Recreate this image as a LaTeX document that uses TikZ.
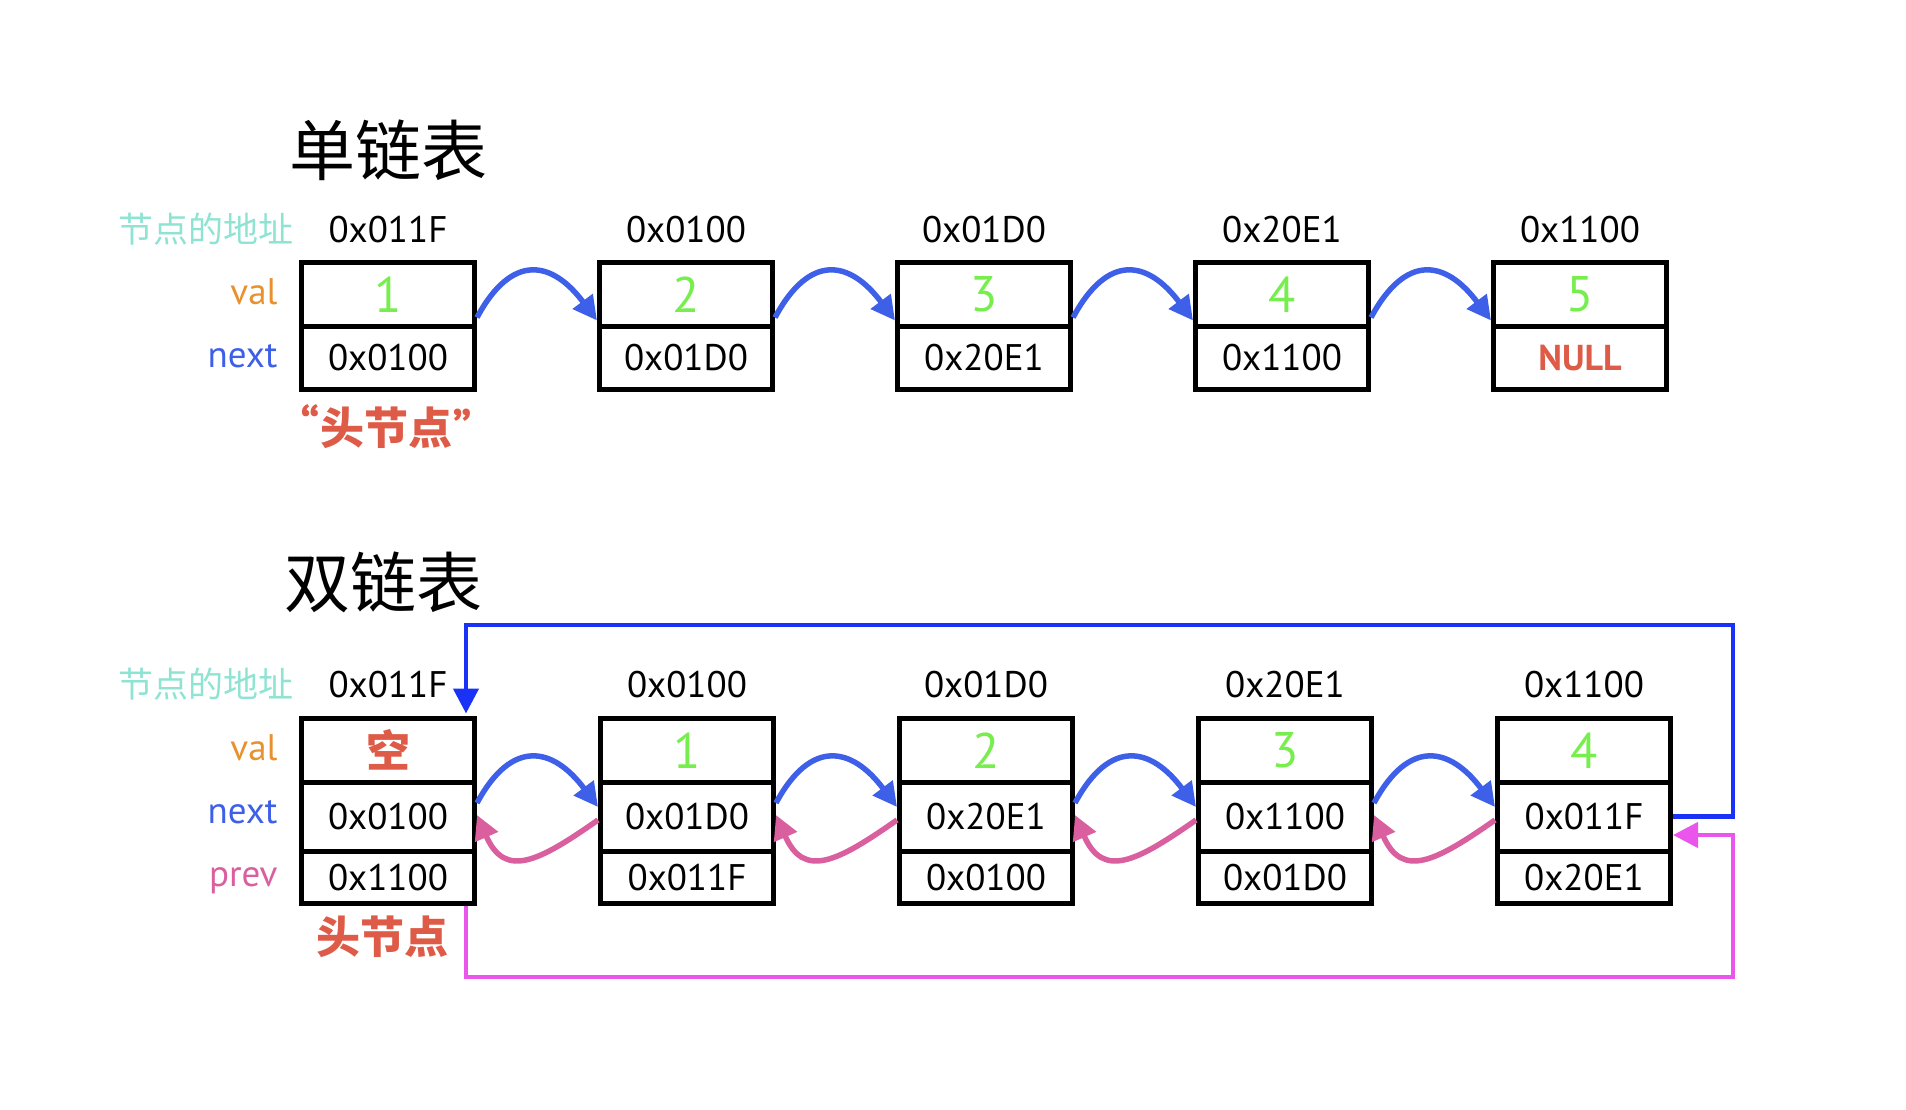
\documentclass[tikz,border=0pt]{standalone}
\usepackage{fontspec}
\setmainfont{PT Sans}
\newfontfamily\ptsans{PT Sans}
\newfontfamily\cjk{Noto Sans CJK SC}
\usetikzlibrary{arrows.meta}

\definecolor{addrteal}{HTML}{8FE3D3}
\definecolor{valorange}{HTML}{E8912F}
\definecolor{nextblue}{HTML}{3E5FE8}
\definecolor{prevpink}{HTML}{D95F9F}
\definecolor{valgreen}{HTML}{76EE4E}
\definecolor{headred}{HTML}{DD5B47}
\definecolor{loopblue}{HTML}{1A32F6}
\definecolor{looppink}{HTML}{EA55EC}

\tikzset{
  cell/.style={draw, line width=5pt, inner sep=0pt, minimum width=173pt, font=\fontsize{37}{40}\selectfont},
  valcell/.style={cell, minimum height=63.5pt, text=valgreen, font=\fontsize{50}{52}\selectfont},
  nextcell/.style={cell, minimum height=63.5pt},
  dvalcell/.style={valcell},
  dnextcell/.style={cell, minimum height=69pt},
  dprevcell/.style={cell, minimum height=52.5pt},
  addr/.style={anchor=base, font=\fontsize{37}{40}\selectfont},
  addrlabel/.style={anchor=base east, text=addrteal, font=\cjk\fontsize{35}{38}\selectfont},
  rowlabel/.style={anchor=mid east, font=\fontsize{37}{40}\selectfont},
  title/.style={font=\cjk\fontsize{66}{70}\selectfont},
  headlabel/.style={text=headred, font=\cjk\bfseries\fontsize{44}{46}\selectfont},
  nextlink/.style={draw=nextblue, line width=5.5pt, -{Triangle[length=24pt,width=24pt]}},
  prevlink/.style={draw=prevpink, line width=5.5pt, -{Triangle[length=24pt,width=24pt]}},
  loopnext/.style={draw=loopblue, line width=4.5pt, -{Triangle[length=25pt,width=25pt]}},
  loopprev/.style={draw=looppink, line width=4.5pt, -{Triangle[length=25pt,width=25pt]}}
}

\begin{document}
\begin{tikzpicture}[x=1pt,y=-1pt]
        \useasboundingbox (0,0) rectangle (1906,1110);

        % single linked list
        \node[title] (stitle) at (388,150) {单链表};
        \node[addrlabel] (saddr) at (297,242) {节点的地址};
        \node[rowlabel, text=valorange] (sval) at (281,302) {val};
        \node[rowlabel, text=nextblue] (snext) at (281,365) {next};

        \node[addr] (sa1) at (388,242) {0x011F};
        \node[addr] (sa2) at (686,242) {0x0100};
        \node[addr] (sa3) at (984,242) {0x01D0};
        \node[addr] (sa4) at (1282,242) {0x20E1};
        \node[addr] (sa5) at (1580,242) {0x1100};

        \node[valcell] (s1v) at (388,294.25) {1};
        \node[valcell] (s2v) at (686,294.25) {2};
        \node[valcell] (s3v) at (984,294.25) {3};
        \node[valcell] (s4v) at (1282,294.25) {4};
        \node[valcell] (s5v) at (1580,294.25) {5};

        \node[nextcell] (s1n) at (388,357.75) {0x0100};
        \node[nextcell] (s2n) at (686,357.75) {0x01D0};
        \node[nextcell] (s3n) at (984,357.75) {0x20E1};
        \node[nextcell] (s4n) at (1282,357.75) {0x1100};
        \node[nextcell, text=headred, font=\bfseries\fontsize{36}{38}\selectfont] (s5n) at (1580,357.75) {NULL};

        \node[headlabel] (shead) at (386,427) {{\ptsans\fontsize{50}{50}\selectfont “}头节点{\ptsans\fontsize{50}{50}\selectfont ”}};

        \draw[nextlink] ([yshift=6pt]s1n.north east) .. controls +(35,-65) and +(-45,-60) .. ([yshift=3pt]s2n.north west);
        \draw[nextlink] ([yshift=6pt]s2n.north east) .. controls +(35,-65) and +(-45,-60) .. ([yshift=3pt]s3n.north west);
        \draw[nextlink] ([yshift=6pt]s3n.north east) .. controls +(35,-65) and +(-45,-60) .. ([yshift=3pt]s4n.north west);
        \draw[nextlink] ([yshift=6pt]s4n.north east) .. controls +(35,-65) and +(-45,-60) .. ([yshift=3pt]s5n.north west);

        % double linked list
        \node[title] (dtitle) at (383,582) {双链表};
        \node[addrlabel] (daddr) at (297,697) {节点的地址};
        \node[rowlabel, text=valorange] (dval) at (281,758) {val};
        \node[rowlabel, text=nextblue] (dnext) at (281,821) {next};
        \node[rowlabel, text=prevpink] (dprev) at (281,884) {prev};

        \node[addr] (da1) at (388,697) {0x011F};
        \node[addr] (da2) at (687,697) {0x0100};
        \node[addr] (da3) at (986,697) {0x01D0};
        \node[addr] (da4) at (1285,697) {0x20E1};
        \node[addr] (da5) at (1584,697) {0x1100};

        \node[dvalcell, text=headred, font=\cjk\bfseries\fontsize{44}{46}\selectfont] (d1v) at (388,750.25) {空};
        \node[dvalcell] (d2v) at (687,750.25) {1};
        \node[dvalcell] (d3v) at (986,750.25) {2};
        \node[dvalcell] (d4v) at (1285,750.25) {3};
        \node[dvalcell] (d5v) at (1584,750.25) {4};

        \node[dnextcell] (d1n) at (388,816.5) {0x0100};
        \node[dnextcell] (d2n) at (687,816.5) {0x01D0};
        \node[dnextcell] (d3n) at (986,816.5) {0x20E1};
        \node[dnextcell] (d4n) at (1285,816.5) {0x1100};
        \node[dnextcell] (d5n) at (1584,816.5) {0x011F};

        \node[dprevcell] (d1p) at (388,877.25) {0x1100};
        \node[dprevcell] (d2p) at (687,877.25) {0x011F};
        \node[dprevcell] (d3p) at (986,877.25) {0x0100};
        \node[dprevcell] (d4p) at (1285,877.25) {0x01D0};
        \node[dprevcell] (d5p) at (1584,877.25) {0x20E1};

        \node[headlabel] (dhead) at (382,937) {头节点};

        \draw[nextlink] ([yshift=13.5pt]d1n.east) .. controls +(35,-65) and +(-45,-60) .. ([yshift=9.5pt]d2n.west);
        \draw[nextlink] ([yshift=13.5pt]d2n.east) .. controls +(35,-65) and +(-45,-60) .. ([yshift=9.5pt]d3n.west);
        \draw[nextlink] ([yshift=13.5pt]d3n.east) .. controls +(35,-65) and +(-45,-60) .. ([yshift=9.5pt]d4n.west);
        \draw[nextlink] ([yshift=13.5pt]d4n.east) .. controls +(35,-65) and +(-45,-60) .. ([yshift=9.5pt]d5n.west);

        \draw[prevlink] ([yshift=-3.5pt]d2n.west) .. controls +(-60,42) and +(28,64) .. ([yshift=1.5pt]d1n.east);
        \draw[prevlink] ([yshift=-3.5pt]d3n.west) .. controls +(-60,42) and +(28,64) .. ([yshift=1.5pt]d2n.east);
        \draw[prevlink] ([yshift=-3.5pt]d4n.west) .. controls +(-60,42) and +(28,64) .. ([yshift=1.5pt]d3n.east);
        \draw[prevlink] ([yshift=-3.5pt]d5n.west) .. controls +(-60,42) and +(28,64) .. ([yshift=1.5pt]d4n.east);

        \coordinate (nturn) at (1733,625);
        \coordinate (pturn) at (1733,977);
        \draw[loopnext] (d5n.east) -| (nturn) -| ([xshift=-11pt,yshift=2.5pt]d1v.north east);
        \draw[loopprev] ([xshift=-11pt]d1p.south east) |- (pturn) |- ([yshift=-18.5pt]d5n.east);
    \end{tikzpicture}
\end{document}
